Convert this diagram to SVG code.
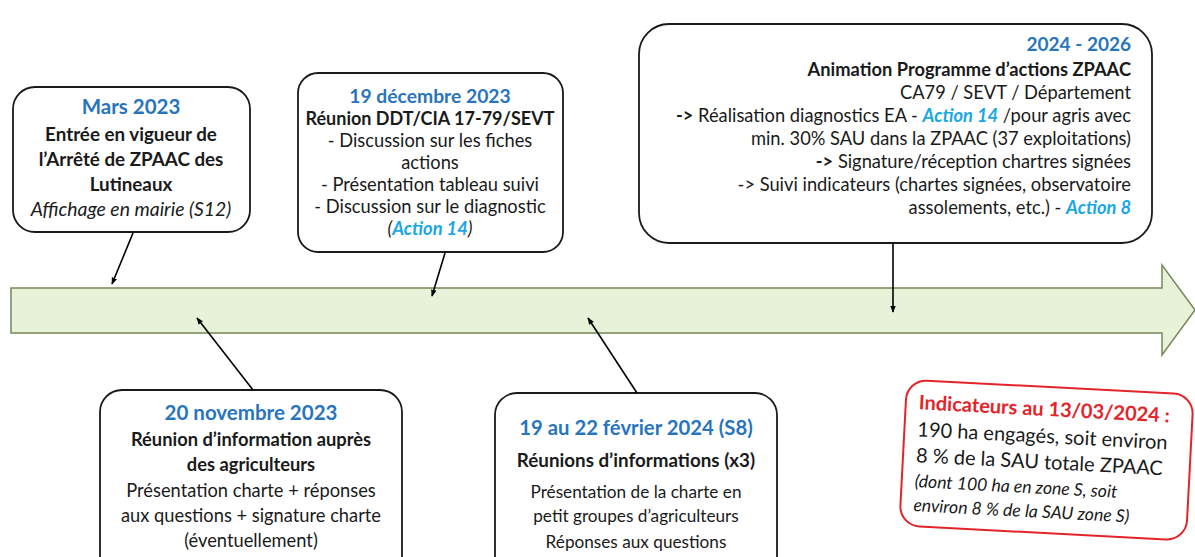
<svg xmlns="http://www.w3.org/2000/svg" width="1195" height="557" viewBox="0 0 1195 557">
<defs>
<marker id="ah" viewBox="0 0 10 10" refX="9" refY="5" markerWidth="7" markerHeight="7" orient="auto" markerUnits="userSpaceOnUse"><path d="M0,1 L10,5 L0,9 Z" fill="#000"/></marker>
<style>
.box{fill:#fff;stroke:#1a1a1a;stroke-width:1.8}
.t{font-family:Lato,"Liberation Sans",sans-serif;font-size:18.3px;fill:#1a1a1a}
.c{text-anchor:middle}
.r{text-anchor:end}
.b{font-weight:bold}
.i{font-style:italic}
.blue{fill:#2874bd;font-weight:bold;font-size:20.3px}
.lb{fill:#1aa7e6;font-weight:bold;font-style:italic}
.conn{stroke:#000;stroke-width:1.6;fill:none;marker-end:url(#ah)}
.red{fill:#e3242b}
</style>
</defs>
<rect width="1195" height="557" fill="#fff"/>
<g id="timeline">
<path d="M11,288 H1162 V265 L1195,310 L1162,355 V333 H11 Z" fill="#e8f2d9" stroke="#76875a" stroke-width="1.5"/>
</g>
<g id="mars">
<rect class="box" x="13" y="87" width="237" height="145" rx="22"/>
<text class="t c blue" x="131" y="114" style="font-size:20.5px">Mars 2023</text>
<text class="t c b" x="131" y="141" style="font-size:18.8px">Entrée en vigueur de</text>
<text class="t c b" x="131" y="166" style="font-size:18.8px">l’Arrêté de ZPAAC des</text>
<text class="t c b" x="131" y="191" style="font-size:18.8px">Lutineaux</text>
<text class="t c i" x="131" y="216" style="font-size:19.4px">Affichage en mairie (S12)</text>
</g>
<g id="dec">
<rect class="box" x="298" y="73" width="265" height="179" rx="20"/>
<text class="t c blue" x="430" y="103" style="font-size:19.3px">19 décembre 2023</text>
<text class="t c b" x="430" y="125" style="font-size:18px">Réunion DDT/CIA 17-79/SEVT</text>
<text class="t c" x="430" y="147">- Discussion sur les fiches</text>
<text class="t c" x="430" y="169">actions</text>
<text class="t c" x="430" y="191">- Présentation tableau suivi</text>
<text class="t c" x="430" y="213">- Discussion sur le diagnostic</text>
<text class="t c i" x="430" y="235">(<tspan class="lb">Action 14</tspan>)</text>
</g>
<g id="anim">
<rect class="box" x="639" y="24" width="513" height="219" rx="30"/>
<text class="t r blue" x="1131" y="51" style="font-size:19px">2024 - 2026</text>
<text class="t r b" x="1131" y="76">Animation Programme d’actions ZPAAC</text>
<text class="t r" x="1131" y="99">CA79 / SEVT / Département</text>
<text class="t r" x="1131" y="122"><tspan class="b">-&gt;</tspan> Réalisation diagnostics EA - <tspan class="lb">Action 14</tspan> /pour agris avec</text>
<text class="t r" x="1131" y="145">min. 30% SAU dans la ZPAAC (37 exploitations)</text>
<text class="t r" x="1131" y="168"><tspan class="b">-&gt;</tspan> Signature/réception chartres signées</text>
<text class="t r" x="1131" y="191">-&gt; Suivi indicateurs (chartes signées, observatoire</text>
<text class="t r" x="1131" y="214">assolements, etc.) - <tspan class="lb">Action 8</tspan></text>
</g>
<g id="nov">
<rect class="box" x="100" y="390" width="302" height="190" rx="22"/>
<text class="t c blue" x="251" y="420" style="font-size:20.5px">20 novembre 2023</text>
<text class="t c b" x="251" y="446">Réunion d’information auprès</text>
<text class="t c b" x="251" y="471">des agriculteurs</text>
<text class="t c" x="251" y="497">Présentation charte + réponses</text>
<text class="t c" x="251" y="522">aux questions + signature charte</text>
<text class="t c" x="251" y="547">(éventuellement)</text>
</g>
<g id="feb">
<rect class="box" x="495" y="393" width="282" height="190" rx="22"/>
<text class="t c blue" x="636" y="435">19 au 22 février 2024 (S8)</text>
<text class="t c b" x="636" y="467" style="font-size:18.8px">Réunions d’informations (x3)</text>
<text class="t c" x="636" y="498" style="font-size:17.2px">Présentation de la charte en</text>
<text class="t c" x="636" y="522" style="font-size:17.2px">petit groupes d’agriculteurs</text>
<text class="t c" x="636" y="548" style="font-size:17.2px">Réponses aux questions</text>
</g>
<g id="indicateurs" transform="rotate(3 1046 460)">
<rect x="903" y="387" width="287" height="146" rx="20" fill="#fff" stroke="#e3242b" stroke-width="2"/>
<text class="t b red" x="916" y="416" style="font-size:20px">Indicateurs au 13/03/2024 :</text>
<text class="t" x="916" y="443" style="font-size:20px">190 ha engagés, soit environ</text>
<text class="t" x="916" y="469" style="font-size:20px">8 % de la SAU totale ZPAAC</text>
<text class="t i" x="916" y="494" style="font-size:17.6px">(dont 100 ha en zone S, soit</text>
<text class="t i" x="916" y="518" style="font-size:17.6px">environ 8 % de la SAU zone S)</text>
</g>
<g id="connectors">
<line class="conn" x1="133" y1="233" x2="112" y2="284"/>
<line class="conn" x1="445" y1="253" x2="432" y2="296"/>
<line class="conn" x1="893" y1="243" x2="893" y2="312"/>
<line class="conn" x1="253" y1="390" x2="197" y2="318"/>
<line class="conn" x1="637" y1="393" x2="588" y2="318"/>
</g>
</svg>
